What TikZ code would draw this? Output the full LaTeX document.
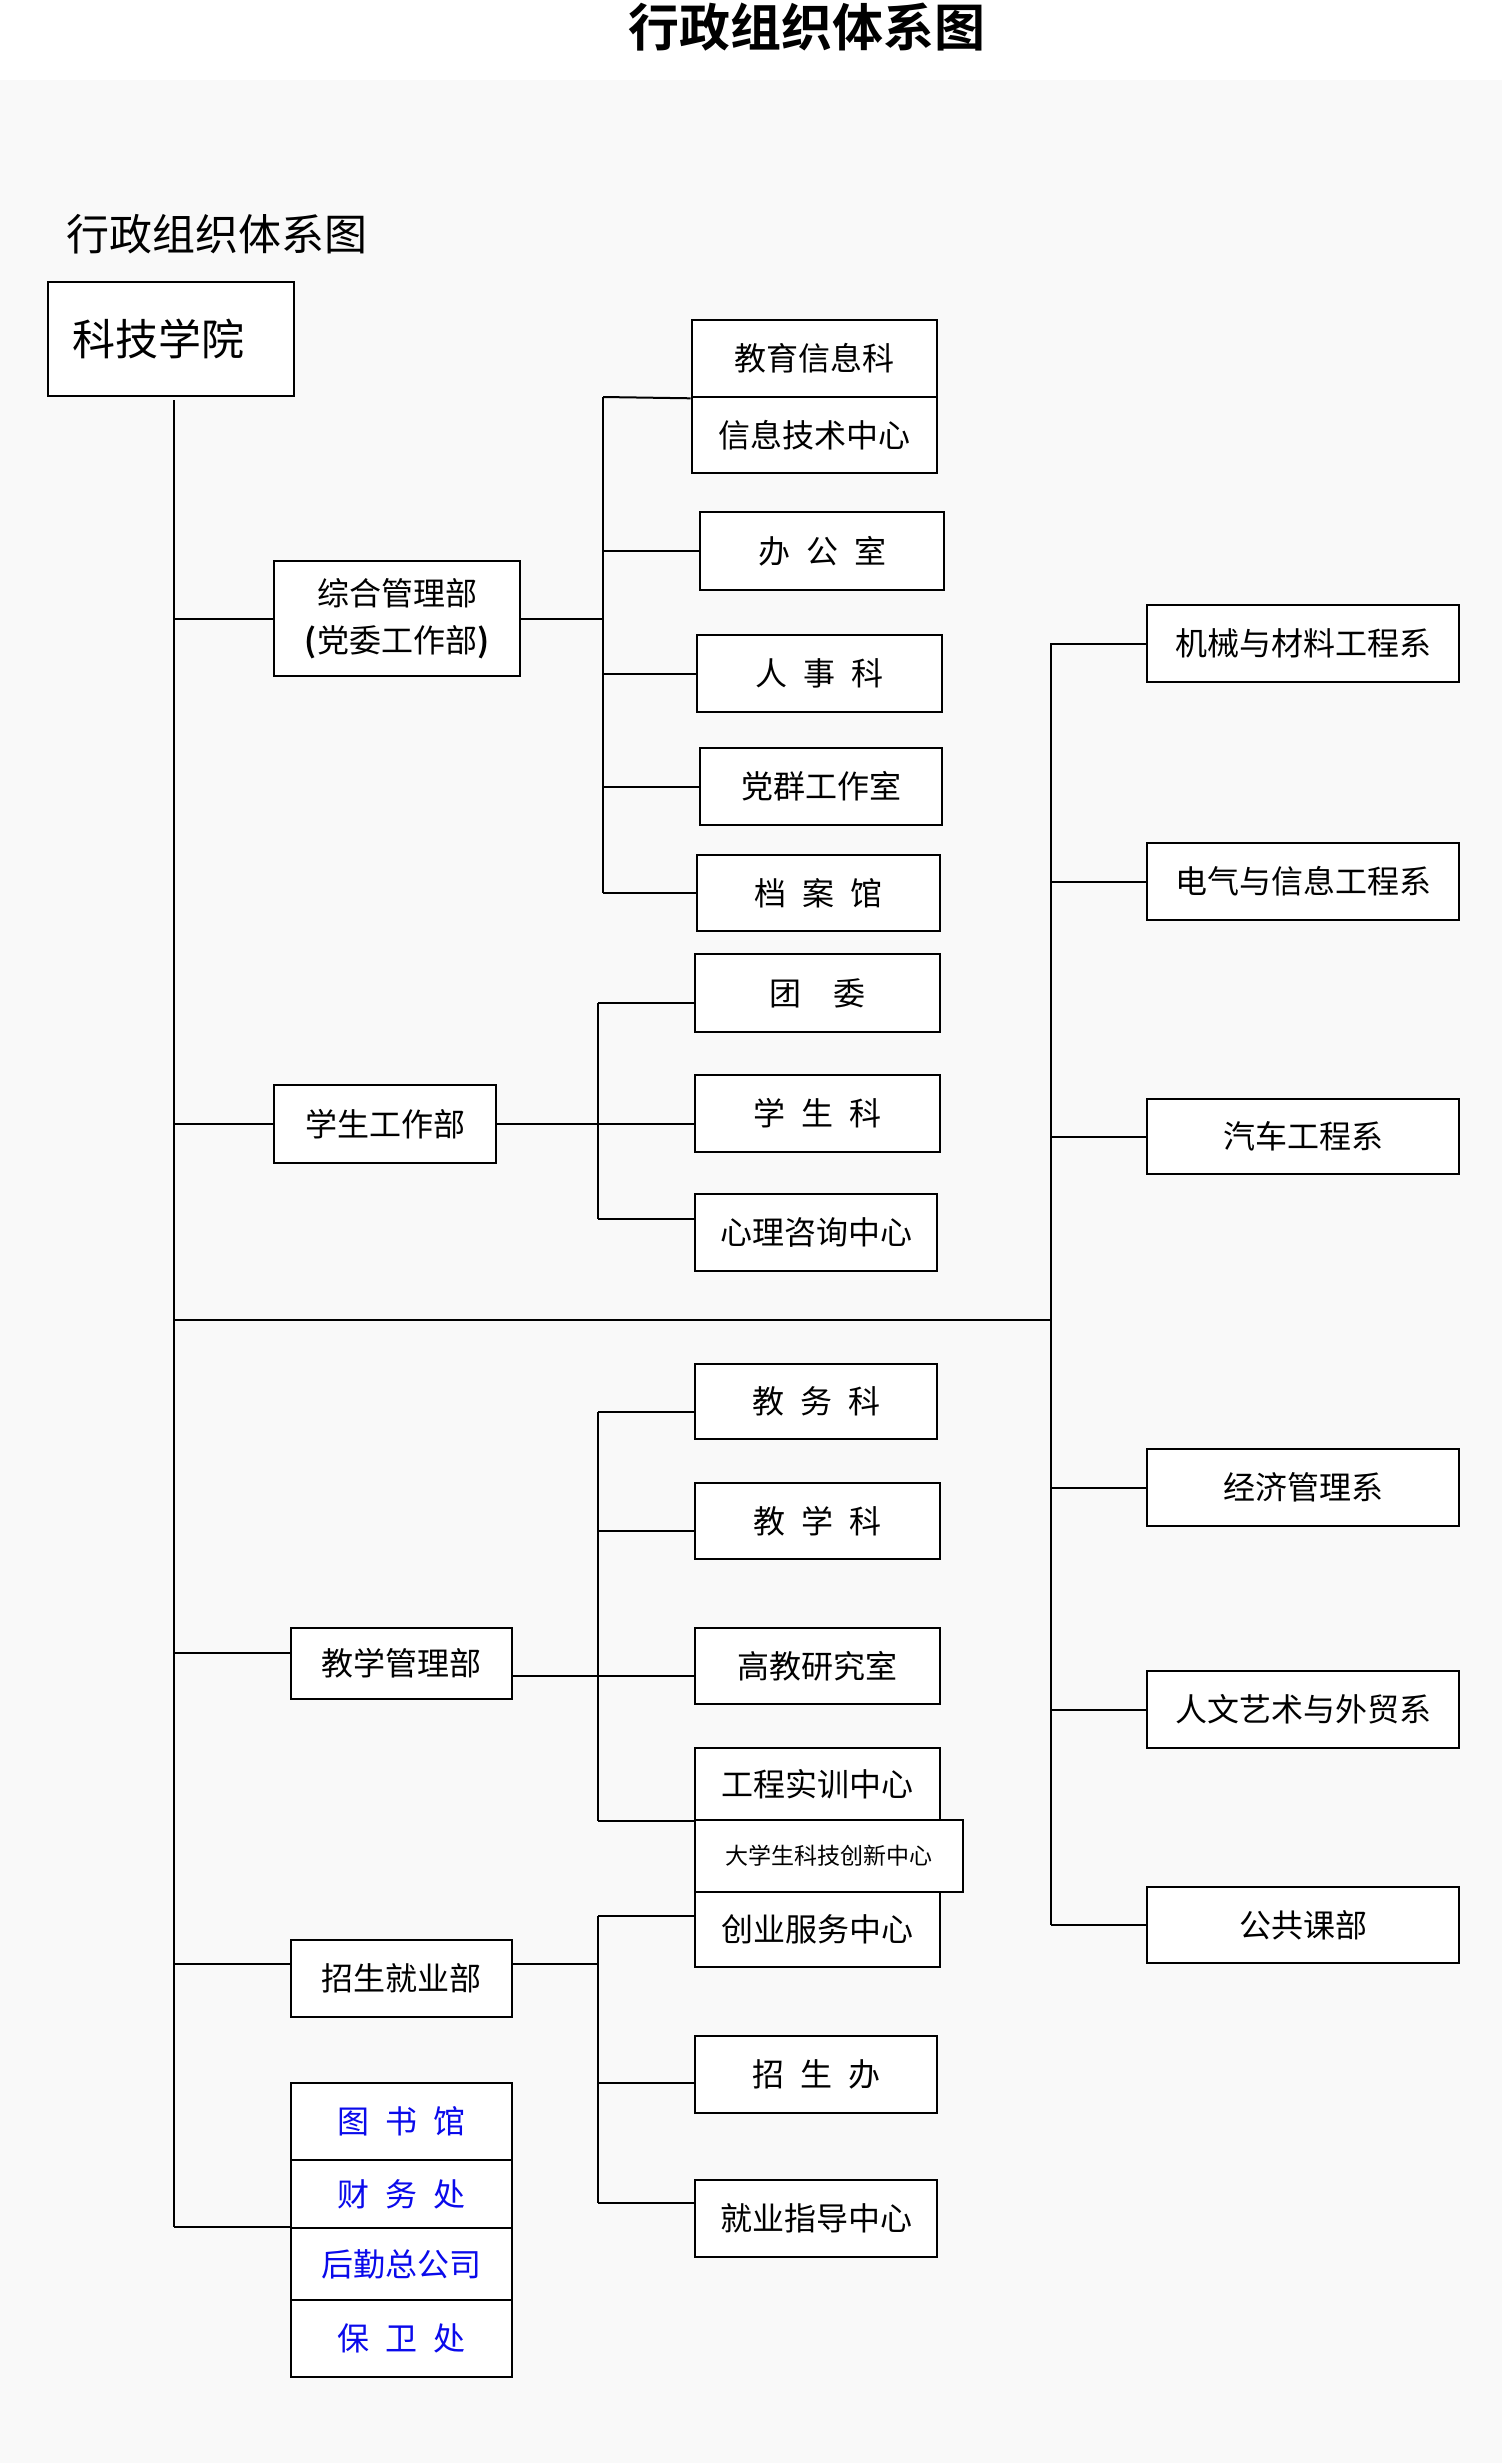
\documentclass[tikz,border=0pt]{standalone}
\usepackage{fontspec}
\setmainfont{Noto Sans CJK SC}[BoldFont={Noto Sans CJK SC Bold}]
\definecolor{bgc}{RGB}{249,249,249}
\definecolor{blutxt}{RGB}{10,10,235}
\newcommand\bx[7][]{\node[box,#1,minimum width={(#5)-(#3)},minimum height={(#6)-(#4)}] (#2) at ({((#3)+(#5))/2},{((#4)+(#6))/2}) {#7};}
\newcommand\gp{\hspace{0.5em}}
\begin{document}
\begin{tikzpicture}[x=1pt,y=-1pt,
  box/.style={draw=black,line width=2.6pt,fill=white,inner sep=0pt,text=black,
    font=\fontsize{32}{38}\selectfont},
  small/.style={font=\fontsize{23}{28}\selectfont},
  bluebox/.style={text=blutxt},
  ln/.style={line width=2pt,draw=black}]
\useasboundingbox (0,0) rectangle (1502,2463);
\fill[white] (0,0) rectangle (1502,80);
\fill[bgc] (0,80) rectangle (1502,2463);
\node[font=\fontsize{51}{56}\selectfont\bfseries] (title) at (807,27) {行政组织体系图};
\node[font=\fontsize{43}{48}\selectfont] (sub) at (217,234) {行政组织体系图};
% boxes
\bx[font=\fontsize{43}{48}\selectfont]{root}{48}{282}{294}{396}{\hspace*{-26pt}科技学院}
\bx[align=center,font=\fontsize{32}{47}\selectfont]{zhgl}{274}{561}{520}{676}{综合管理部\\\textbf{(}党委工作部\textbf{)}}
\bx{jyxx}{692}{320}{937}{397}{教育信息科}
\bx{xxjs}{692}{397}{937}{473}{信息技术中心}
\bx{bgs}{700}{512}{944}{590}{办\gp 公\gp 室}
\bx{rsk}{697}{635}{942}{712}{人\gp 事\gp 科}
\bx{dqgz}{700}{748}{942}{825}{党群工作室}
\bx{dag}{697}{855}{940}{931}{档\gp 案\gp 馆}
\bx{xsgz}{274}{1085}{496}{1163}{学生工作部}
\bx{tw}{695}{954}{940}{1032}{团\hspace{1em}委}
\bx{xsk}{695}{1075}{940}{1152}{学\gp 生\gp 科}
\bx{xlzx}{695}{1194}{937}{1271}{心理咨询中心}
\bx{jwk}{695}{1364}{937}{1439}{教\gp 务\gp 科}
\bx{jxk}{695}{1483}{940}{1559}{教\gp 学\gp 科}
\bx{jxgl}{291}{1628}{512}{1699}{教学管理部}
\bx{gjys}{695}{1628}{940}{1704}{高教研究室}
\bx{gcsx}{695}{1748}{940}{1820}{工程实训中心}
\bx[small]{dxs}{695}{1820}{963}{1892}{大学生科技创新中心}
\bx{cyfw}{695}{1892}{940}{1967}{创业服务中心}
\bx{zsjy}{291}{1940}{512}{2017}{招生就业部}
\bx{zsb}{695}{2036}{937}{2113}{招\gp 生\gp 办}
\bx{jyzd}{695}{2180}{937}{2257}{就业指导中心}
\bx[bluebox]{tsg}{291}{2083}{512}{2160}{图\gp 书\gp 馆}
\bx[bluebox]{cwc}{291}{2160}{512}{2228}{财\gp 务\gp 处}
\bx[bluebox]{hq}{291}{2228}{512}{2300}{后勤总公司}
\bx[bluebox]{bwc}{291}{2300}{512}{2377}{保\gp 卫\gp 处}
\bx{jx}{1147}{605}{1459}{682}{机械与材料工程系}
\bx{dq}{1147}{843}{1459}{920}{电气与信息工程系}
\bx{qc}{1147}{1099}{1459}{1174}{汽车工程系}
\bx{jj}{1147}{1449}{1459}{1526}{经济管理系}
\bx{rw}{1147}{1671}{1459}{1748}{人文艺术与外贸系}
\bx{gg}{1147}{1887}{1459}{1963}{公共课部}
% bus coordinates
\coordinate (mt) at (174,400);
\coordinate (b1) at (603,397);
\coordinate (b2) at (598,1003);
\coordinate (b3) at (598,1412);
\coordinate (b4) at (598,1916);
\coordinate (rb) at (1051,643);
\coordinate (hl) at (174,1320);
% shifted attachment points
\coordinate (jxglL) at ([yshift=11pt]jxgl.west);
\coordinate (jxglR) at ([yshift=-12.5pt]jxgl.east);
\coordinate (zsjyL) at ([yshift=15pt]zsjy.west);
\coordinate (zsjyR) at ([yshift=15pt]zsjy.east);
\coordinate (xlzxA) at ([yshift=13.5pt]xlzx.west);
\coordinate (jxkA) at ([yshift=-10pt]jxk.west);
\coordinate (zsbA) at ([yshift=-8.5pt]zsb.west);
\coordinate (jyzdA) at ([yshift=15.5pt]jyzd.west);
% main trunk
\draw[ln] (mt) -- (mt |- hq.north west);
\draw[ln] (zhgl.west -| mt) -- (zhgl.west);
\draw[ln] (xsgz.west -| mt) -- (xsgz.west);
\draw[ln] (hl) -- (hl -| rb);
\draw[ln] (jxglL -| mt) -- (jxglL);
\draw[ln] (zsjyL -| mt) -- (zsjyL);
\draw[ln] (hq.north west -| mt) -- (hq.north west);
% bus 1
\draw[ln] (b1) -- (b1 |- dag.west);
\draw[ln] (zhgl.east) -- (zhgl.east -| b1);
\draw[ln] (b1) -- (jyxx.south west);
\draw[ln] (bgs.west -| b1) -- (bgs.west);
\draw[ln] (rsk.west -| b1) -- (rsk.west);
\draw[ln] (dqgz.west -| b1) -- (dqgz.west);
\draw[ln] (dag.west -| b1) -- (dag.west);
% bus 2
\draw[ln] (b2) -- (b2 |- xlzxA);
\draw[ln] (b2) -- (b2 -| tw.west);
\draw[ln] (xsgz.east) -- (xsgz.east -| xsk.west);
\draw[ln] (xlzxA -| b2) -- (xlzxA);
% bus 3
\draw[ln] (b3) -- (b3 |- gcsx.south west);
\draw[ln] (b3) -- (b3 -| jwk.west);
\draw[ln] (jxkA -| b3) -- (jxkA);
\draw[ln] (jxglR) -- (jxglR -| gjys.west);
\draw[ln] (gcsx.south west -| b3) -- (gcsx.south west);
% bus 4
\draw[ln] (b4) -- (b4 |- jyzdA);
\draw[ln] (b4) -- (b4 -| cyfw.west);
\draw[ln] (zsjyR) -- (zsjyR -| b4);
\draw[ln] (zsbA -| b4) -- (zsbA);
\draw[ln] (jyzdA -| b4) -- (jyzdA);
% right bus
\draw[ln] (rb) -- (rb |- gg.west);
\draw[ln] (jx.west -| rb) -- (jx.west);
\draw[ln] (dq.west -| rb) -- (dq.west);
\draw[ln] (qc.west -| rb) -- (qc.west);
\draw[ln] (jj.west -| rb) -- (jj.west);
\draw[ln] (rw.west -| rb) -- (rw.west);
\draw[ln] (gg.west -| rb) -- (gg.west);
\end{tikzpicture}
\end{document}
